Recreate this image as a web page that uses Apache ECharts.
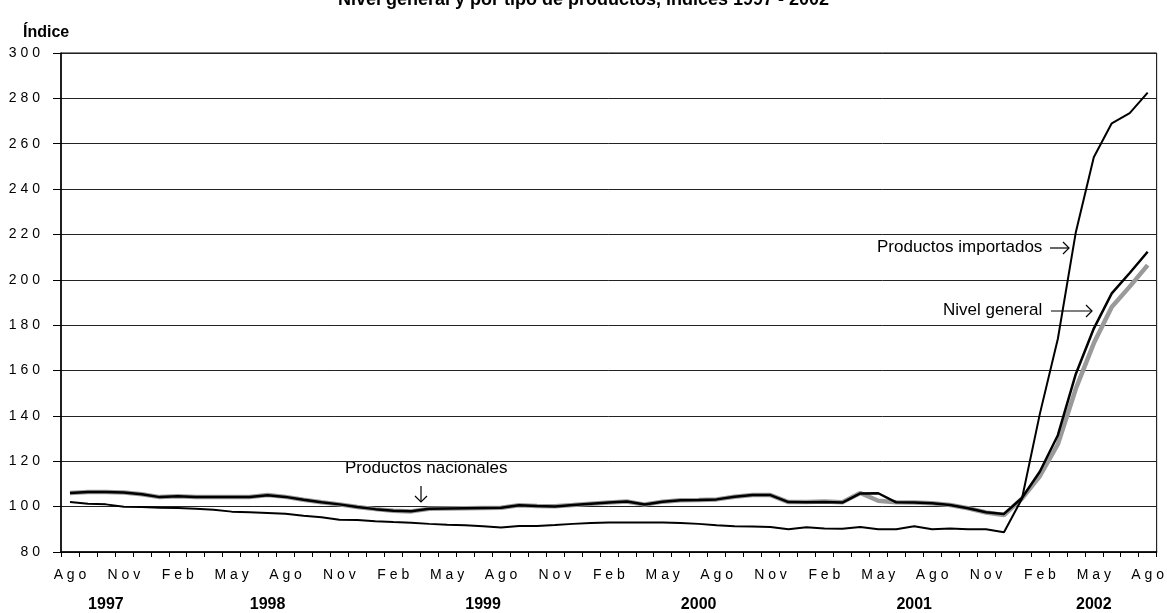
<!DOCTYPE html>
<html>
<head>
<meta charset="utf-8">
<script src="https://cdn.jsdelivr.net/npm/echarts@6/dist/echarts.min.js"></script>
<style>
  html, body { margin: 0; padding: 0; background: #fff; }
  #chart { width: 1167px; height: 613px; }
</style>
</head>
<body>
<div id="chart"></div>
<script>
// monthly index, Aug 1997 - Aug 2002
var months = [
  'Ago', 'Sep', 'Oct', 'Nov', 'Dic',
  'Ene', 'Feb', 'Mar', 'Abr', 'May', 'Jun', 'Jul', 'Ago', 'Sep', 'Oct', 'Nov', 'Dic',
  'Ene', 'Feb', 'Mar', 'Abr', 'May', 'Jun', 'Jul', 'Ago', 'Sep', 'Oct', 'Nov', 'Dic',
  'Ene', 'Feb', 'Mar', 'Abr', 'May', 'Jun', 'Jul', 'Ago', 'Sep', 'Oct', 'Nov', 'Dic',
  'Ene', 'Feb', 'Mar', 'Abr', 'May', 'Jun', 'Jul', 'Ago', 'Sep', 'Oct', 'Nov', 'Dic',
  'Ene', 'Feb', 'Mar', 'Abr', 'May', 'Jun', 'Jul', 'Ago'
];

// year captions and the month index they sit under
var years = ['1997', '1998', '1999', '2000', '2001', '2002'];
var yearIndex = [2, 11, 23, 35, 47, 57];

var yTicks = [80, 100, 120, 140, 160, 180, 200, 220, 240, 260, 280, 300];

var nivelGeneral = [
  106.0, 106.4, 106.4, 106.2, 105.5,
  104.2, 104.6, 104.3, 104.3, 104.2, 104.2, 105.0, 104.3, 103.0, 101.9, 101.0, 99.8,
  98.9, 98.2, 98.0, 99.1, 99.2, 99.3, 99.4, 99.5, 100.6, 100.3, 100.1, 100.7,
  101.3, 101.8, 102.3, 100.9, 102.2, 102.8, 102.9, 103.2, 104.4, 105.1, 105.1, 102.0,
  101.9, 102.0, 101.8, 105.8, 105.9, 101.9, 101.8, 101.5, 100.7, 99.3, 97.5, 96.8,
  103.8, 115.5, 131.5, 158.5, 178.5, 194.0, 203.0, 212.4
];

var nacionales = [
  106.0, 106.4, 106.4, 106.2, 105.5,
  104.2, 104.6, 104.3, 104.3, 104.2, 104.2, 105.1, 104.3, 103.0, 101.9, 101.0, 99.8,
  98.9, 98.2, 97.9, 99.1, 99.2, 99.3, 99.4, 99.5, 100.6, 100.3, 100.2, 100.7,
  101.3, 101.8, 102.3, 100.9, 102.2, 102.8, 102.9, 103.2, 104.4, 105.1, 105.1, 102.0,
  102.0, 102.3, 101.9, 106.0, 102.6, 101.9, 101.8, 101.5, 100.7, 99.3, 97.4, 96.3,
  103.5, 113.5, 127.5, 152.0, 172.0, 188.0, 197.0, 206.5
];

var importados = [
  102.0, 101.3, 101.0, 100.0, 99.8,
  99.5, 99.4, 99.1, 98.6, 97.8, 97.5, 97.2, 96.9, 96.0, 95.3, 94.2, 94.1,
  93.6, 93.2, 92.9, 92.4, 92.0, 91.8, 91.3, 90.8, 91.5, 91.5, 91.9, 92.4,
  92.8, 93.0, 93.0, 93.0, 93.0, 92.8, 92.4, 91.8, 91.4, 91.2, 91.0, 90.0,
  90.9, 90.4, 90.2, 91.0, 90.0, 90.0, 91.4, 90.0, 90.4, 90.0, 90.0, 88.7,
  103.5, 141.0, 174.0, 221.0, 254.0, 269.0, 273.5, 282.5
];

var FONT = '"Liberation Sans", Arial, sans-serif';

function spaced(s) {
  return String(s).split('').join(' ');
}

var chart = echarts.init(document.getElementById('chart'));

var option = {
  animation: false,
  backgroundColor: '#fff',
  title: [
    {
      // only the lower part of the heading shows in the picture
      text: 'Nivel general y por tipo de productos, índices 1997 - 2002',
      left: 'center',
      top: -14,
      textStyle: { fontFamily: FONT, fontSize: 18, fontWeight: 'bold', color: '#000' }
    },
    {
      text: 'Índice',
      left: 18,
      top: 20,
      textStyle: { fontFamily: FONT, fontSize: 16, fontWeight: 'bold', color: '#000' }
    }
  ],
  grid: {
    left: 61,
    right: 8,
    top: 53,
    bottom: 61,
    show: true,
    borderColor: '#000',
    borderWidth: 1
  },
  xAxis: [
    {
      type: 'category',
      data: months,
      boundaryGap: true,
      axisLine: { lineStyle: { color: '#000', width: 1.5 } },
      axisTick: { show: true, interval: 0, length: 5, lineStyle: { color: '#000' } },
      axisLabel: {
        interval: 2,
        margin: 16,
        color: '#000',
        fontFamily: FONT,
        fontSize: 14,
        formatter: function (v) { return spaced(v); }
      },
      splitLine: { show: false }
    },
    {
      type: 'category',
      data: months,
      position: 'bottom',
      boundaryGap: true,
      axisLine: { show: false },
      axisTick: { show: false },
      axisLabel: {
        interval: 0,
        margin: 45,
        color: '#000',
        fontFamily: FONT,
        fontSize: 16,
        fontWeight: 'bold',
        formatter: function (v, i) {
          var k = yearIndex.indexOf(i);
          return k >= 0 ? years[k] : '';
        }
      },
      splitLine: { show: false }
    }
  ],
  yAxis: {
    type: 'value',
    min: yTicks[0],
    max: yTicks[yTicks.length - 1],
    interval: 20,
    axisLine: { show: true, lineStyle: { color: '#000', width: 1.5 } },
    axisTick: { show: true, length: 8, lineStyle: { color: '#000' } },
    axisLabel: {
      margin: 21,
      color: '#000',
      fontFamily: FONT,
      fontSize: 14,
      formatter: function (v) { return spaced(v); }
    },
    splitLine: { show: true, lineStyle: { color: '#222', width: 1 } }
  },
  series: [
    {
      name: 'Productos nacionales',
      type: 'line',
      data: nacionales,
      showSymbol: false,
      lineStyle: { color: '#9a9a9a', width: 4.5 }
    },
    {
      name: 'Nivel general',
      type: 'line',
      data: nivelGeneral,
      showSymbol: false,
      lineStyle: { color: '#000', width: 2.5 }
    },
    {
      name: 'Productos importados',
      type: 'line',
      data: importados,
      showSymbol: false,
      lineStyle: { color: '#000', width: 2 }
    }
  ],
  graphic: [
    // Productos nacionales
    {
      type: 'text', left: 345, top: 460,
      style: { text: 'Productos nacionales', fill: '#000', font: '17px ' + FONT }
    },
    { type: 'line', shape: { x1: 421, y1: 486, x2: 421, y2: 502 }, style: { stroke: '#000', lineWidth: 1.2 } },
    { type: 'polyline', shape: { points: [[415, 496], [421, 502], [427, 496]] }, style: { stroke: '#000', lineWidth: 1.2, fill: null } },
    // Productos importados
    {
      type: 'text', left: 877, top: 239,
      style: { text: 'Productos importados', fill: '#000', font: '17px ' + FONT }
    },
    { type: 'line', shape: { x1: 1050, y1: 248, x2: 1069, y2: 248 }, style: { stroke: '#000', lineWidth: 1.2 } },
    { type: 'polyline', shape: { points: [[1063, 242], [1069, 248], [1063, 254]] }, style: { stroke: '#000', lineWidth: 1.2, fill: null } },
    // Nivel general
    {
      type: 'text', left: 943, top: 302,
      style: { text: 'Nivel general', fill: '#000', font: '17px ' + FONT }
    },
    { type: 'line', shape: { x1: 1051, y1: 311, x2: 1092, y2: 311 }, style: { stroke: '#000', lineWidth: 1.2 } },
    { type: 'polyline', shape: { points: [[1086, 305], [1092, 311], [1086, 317]] }, style: { stroke: '#000', lineWidth: 1.2, fill: null } }
  ]
};

chart.setOption(option);
</script>
</body>
</html>
